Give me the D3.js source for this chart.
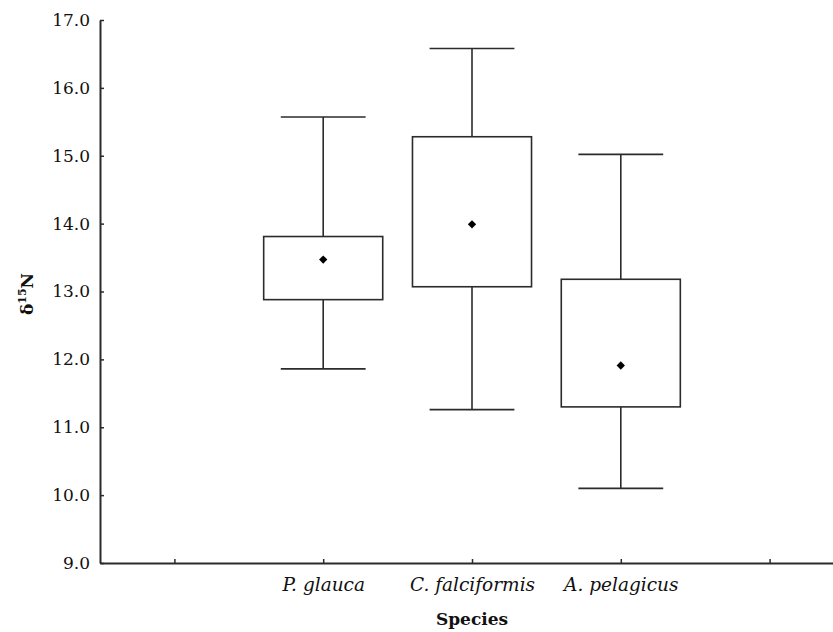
<!DOCTYPE html>
<html><head><meta charset="utf-8">
<script src="https://cdn.jsdelivr.net/npm/d3@7"></script>
<style>body{margin:0;background:#fff}</style>
</head><body>
<svg id="c" width="833" height="632"></svg>
<script>
const categories = ["", "P. glauca", "C. falciformis", "A. pelagicus", " "];
const species = ["P. glauca", "C. falciformis", "A. pelagicus"];
const whiskerLow = [11.86, 11.26, 10.10];
const boxLow = [12.88, 13.07, 11.30];
const means = [13.47, 13.99, 11.91];
const boxHigh = [13.81, 15.28, 13.18];
const whiskerHigh = [15.57, 16.58, 15.02];
const yTicks = [9, 10, 11, 12, 13, 14, 15, 16, 17];

(function () {
const svg = d3.select("#c");
const mLeft = 100, mTop = 20, mBottom = 563, mRight = 844;
const x = d3.scalePoint().domain(categories).range([mLeft, mRight]).padding(0.5);
const y = d3.scaleLinear().domain([9, 17]).range([mBottom, mTop]);
const step = x.step();
const boxW = step * 0.8, capW = step * 0.57;
const ink = "#2b2b2b";
const serif = "DejaVu Serif, serif";

const yAxis = d3.axisLeft(y).tickValues(yTicks).tickFormat(d3.format(".1f")).tickSizeInner(-4).tickSizeOuter(0).tickPadding(10);
const gy = svg.append("g").attr("transform", `translate(${mLeft},0)`).call(yAxis);
gy.select(".domain").attr("stroke", ink).attr("stroke-width", 2);
gy.selectAll(".tick line").attr("stroke", ink).attr("stroke-width", 1.5);
gy.selectAll("text").attr("font-family", serif).attr("font-size", 17).attr("fill", "#111");

const xAxis = d3.axisBottom(x).tickSizeInner(-4).tickSizeOuter(0).tickPadding(15);
const gx = svg.append("g").attr("transform", `translate(0,${mBottom})`).call(xAxis);
gx.select(".domain").attr("stroke", ink).attr("stroke-width", 2);
gx.selectAll(".tick line").attr("stroke", ink).attr("stroke-width", 1.5);
gx.selectAll("text").attr("font-family", serif).attr("font-size", 18.5).attr("font-style", "italic").attr("fill", "#111");

const data = species.map((s, i) => ({s, lo: whiskerLow[i], q1: boxLow[i], m: means[i], q3: boxHigh[i], hi: whiskerHigh[i]}));
const g = svg.append("g").selectAll("g").data(data).join("g");
const sw = 1.6;
g.append("line").attr("x1", d => x(d.s)).attr("x2", d => x(d.s)).attr("y1", d => y(d.hi)).attr("y2", d => y(d.q3)).attr("stroke", ink).attr("stroke-width", sw);
g.append("line").attr("x1", d => x(d.s)).attr("x2", d => x(d.s)).attr("y1", d => y(d.q1)).attr("y2", d => y(d.lo)).attr("stroke", ink).attr("stroke-width", sw);
g.append("line").attr("x1", d => x(d.s) - capW / 2).attr("x2", d => x(d.s) + capW / 2).attr("y1", d => y(d.hi)).attr("y2", d => y(d.hi)).attr("stroke", ink).attr("stroke-width", sw);
g.append("line").attr("x1", d => x(d.s) - capW / 2).attr("x2", d => x(d.s) + capW / 2).attr("y1", d => y(d.lo)).attr("y2", d => y(d.lo)).attr("stroke", ink).attr("stroke-width", sw);
g.append("rect").attr("x", d => x(d.s) - boxW / 2).attr("width", boxW).attr("y", d => y(d.q3)).attr("height", d => y(d.q1) - y(d.q3)).attr("fill", "#fff").attr("stroke", ink).attr("stroke-width", sw);
g.append("path").attr("d", d3.symbol(d3.symbolDiamond2, 44)()).attr("transform", d => `translate(${x(d.s)},${y(d.m)})`).attr("fill", "#000");

svg.append("text").attr("x", x("C. falciformis")).attr("y", 625).attr("text-anchor", "middle")
  .attr("font-family", serif).attr("font-weight", "bold").attr("font-size", 17).attr("fill", "#111").text("Species");
const yl = svg.append("text").attr("transform", "translate(33,294) rotate(-90)").attr("text-anchor", "middle")
  .attr("font-family", serif).attr("font-weight", "bold").attr("font-size", 17).attr("fill", "#111");
yl.append("tspan").text("δ");
yl.append("tspan").attr("font-size", 11).attr("dy", -7).text("15");
yl.append("tspan").attr("dy", 7).text("N");
})();
</script>
</body></html>
